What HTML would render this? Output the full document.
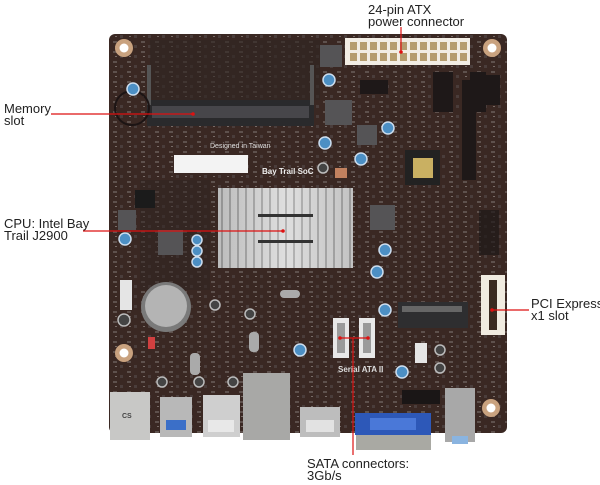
<!DOCTYPE html>
<html><head><meta charset="utf-8"><style>
html,body{margin:0;padding:0;background:#fff;width:600px;height:485px;overflow:hidden}
svg{display:block}
text{font-family:"Liberation Sans",Arial,sans-serif;font-size:13px;fill:#222}
</style></head><body>
<svg width="600" height="485" viewBox="0 0 600 485" xmlns="http://www.w3.org/2000/svg">
<defs>
<pattern id="tex" width="14" height="10" patternUnits="userSpaceOnUse">
<rect width="14" height="10" fill="#3a2823"/>
<rect x="1" y="1" width="4" height="2" fill="#5e514d"/>
<rect x="8" y="5" width="3" height="3" fill="#4a3d3b"/>
<rect x="3" y="6" width="2" height="1" fill="#776b67"/>
</pattern>
<linearGradient id="hs" x1="0" x2="1"><stop offset="0" stop-color="#9a9a9a"/><stop offset=".5" stop-color="#e6e6e6"/><stop offset="1" stop-color="#a8a8a8"/></linearGradient>
<pattern id="fins" width="8" height="10" patternUnits="userSpaceOnUse"><rect width="8" height="10" fill="#d8d8d8"/><rect x="5" width="2" height="10" fill="#8c8c8c"/></pattern>
</defs>
<rect x="109" y="34" width="398" height="399" rx="6" fill="url(#tex)"/>
<rect x="150" y="40" width="170" height="60" fill="#2e2422" opacity=".6"/>
<rect x="140" y="180" width="70" height="110" fill="#2e2422" opacity=".5"/>
<g fill="#c9a27f"><circle cx="124" cy="48" r="9"/><circle cx="492" cy="48" r="9"/><circle cx="124" cy="353" r="9"/><circle cx="491" cy="408" r="9"/></g>
<g fill="#fff"><circle cx="124" cy="48" r="4.5"/><circle cx="492" cy="48" r="4.5"/><circle cx="124" cy="353" r="4.5"/><circle cx="491" cy="408" r="4.5"/></g>
<rect x="345" y="38" width="125" height="27" fill="#f2ede4"/>
<g fill="#b59c6e">
<rect x="350" y="42" width="7" height="8"/><rect x="360" y="42" width="7" height="8"/><rect x="370" y="42" width="7" height="8"/><rect x="380" y="42" width="7" height="8"/><rect x="390" y="42" width="7" height="8"/><rect x="400" y="42" width="7" height="8"/><rect x="410" y="42" width="7" height="8"/><rect x="420" y="42" width="7" height="8"/><rect x="430" y="42" width="7" height="8"/><rect x="440" y="42" width="7" height="8"/><rect x="450" y="42" width="7" height="8"/><rect x="460" y="42" width="7" height="8"/>
<rect x="350" y="53" width="7" height="8"/><rect x="360" y="53" width="7" height="8"/><rect x="370" y="53" width="7" height="8"/><rect x="380" y="53" width="7" height="8"/><rect x="390" y="53" width="7" height="8"/><rect x="400" y="53" width="7" height="8"/><rect x="410" y="53" width="7" height="8"/><rect x="420" y="53" width="7" height="8"/><rect x="430" y="53" width="7" height="8"/><rect x="440" y="53" width="7" height="8"/><rect x="450" y="53" width="7" height="8"/><rect x="460" y="53" width="7" height="8"/>
</g>
<rect x="433" y="72" width="20" height="40" fill="#1e1818"/><rect x="462" y="80" width="14" height="100" fill="#1e1818"/><rect x="485" y="75" width="15" height="30" fill="#1e1818"/><rect x="470" y="72" width="16" height="40" fill="#1e1818"/>
<rect x="360" y="80" width="28" height="14" fill="#1e1818"/>
<rect x="147" y="100" width="167" height="26" fill="#2a2a2c"/>
<rect x="152" y="106" width="157" height="12" fill="#47464a"/>
<rect x="147" y="65" width="4" height="40" fill="#555"/><rect x="310" y="65" width="4" height="40" fill="#555"/>
<circle cx="132" cy="108" r="17" fill="none" stroke="#1c1414" stroke-width="2"/>
<rect x="174" y="155" width="74" height="18" fill="#f3f3f3"/>
<text x="210" y="148" style="font-size:7px;fill:#ddd">Designed in Taiwan</text>
<text x="262" y="174" style="font-size:8px;fill:#eee;font-weight:bold">Bay Trail SoC</text>
<rect x="325" y="100" width="27" height="25" fill="#555456"/><rect x="320" y="45" width="22" height="22" fill="#555456"/><rect x="357" y="125" width="20" height="20" fill="#555456"/>
<rect x="370" y="205" width="25" height="25" fill="#555456"/><rect x="158" y="230" width="25" height="25" fill="#555456"/><rect x="118" y="210" width="18" height="20" fill="#555456"/>
<rect x="405" y="150" width="35" height="35" fill="#222"/><rect x="413" y="158" width="20" height="20" fill="#c9b062"/>
<rect x="135" y="190" width="20" height="18" fill="#1b1b1b"/>
<rect x="335" y="168" width="12" height="10" fill="#c2815f"/>
<rect x="218" y="188" width="135" height="80" fill="url(#fins)"/>
<rect x="218" y="188" width="135" height="80" fill="url(#hs)" opacity=".45"/>
<rect x="258" y="214" width="55" height="3" fill="#333"/><rect x="258" y="240" width="55" height="3" fill="#333"/>
<g fill="#4c8fc4" stroke="#cde" stroke-width="1.5">
<circle cx="133" cy="89" r="6"/><circle cx="329" cy="80" r="6"/><circle cx="388" cy="128" r="6"/><circle cx="325" cy="143" r="6"/><circle cx="361" cy="159" r="6"/>
<circle cx="197" cy="240" r="5"/><circle cx="197" cy="251" r="5"/><circle cx="197" cy="262" r="5"/><circle cx="125" cy="239" r="6"/><circle cx="385" cy="250" r="6"/>
<circle cx="377" cy="272" r="6"/><circle cx="385" cy="310" r="6"/><circle cx="300" cy="350" r="6"/><circle cx="402" cy="372" r="6"/>
</g>
<g fill="#444" stroke="#bbb" stroke-width="1.5"><circle cx="124" cy="320" r="6"/><circle cx="215" cy="305" r="5"/><circle cx="250" cy="314" r="5"/><circle cx="440" cy="350" r="5"/><circle cx="440" cy="368" r="5"/><circle cx="162" cy="382" r="5"/><circle cx="199" cy="382" r="5"/><circle cx="233" cy="382" r="5"/><circle cx="323" cy="168" r="5"/></g>
<circle cx="166" cy="307" r="25" fill="#7a7a7a"/><circle cx="166" cy="306" r="21" fill="#b4b4b4"/>
<rect x="120" y="280" width="12" height="30" fill="#e5e5e5"/>
<rect x="148" y="337" width="7" height="12" fill="#d04040"/>
<rect x="280" y="290" width="20" height="8" rx="4" fill="#aaa"/><rect x="190" y="353" width="10" height="22" rx="4" fill="#aaa"/><rect x="249" y="332" width="10" height="20" rx="4" fill="#aaa"/>
<rect x="398" y="302" width="70" height="26" fill="#2e2e30"/><rect x="402" y="306" width="60" height="6" fill="#666"/>
<rect x="481" y="275" width="24" height="60" fill="#f0ebe0"/><rect x="489" y="280" width="8" height="50" fill="#3a2a20"/>
<rect x="479" y="210" width="20" height="45" fill="#1e1818" opacity=".7"/>
<rect x="333" y="318" width="16" height="40" fill="#e8e8e8"/><rect x="337" y="323" width="8" height="30" fill="#9a9a9a"/>
<rect x="359" y="318" width="16" height="40" fill="#e8e8e8"/><rect x="363" y="323" width="8" height="30" fill="#9a9a9a"/>
<text x="338" y="372" style="font-size:8px;fill:#ddd;font-weight:bold">Serial ATA II</text>
<rect x="415" y="343" width="12" height="20" fill="#e5e5e5"/>
<rect x="402" y="390" width="38" height="14" fill="#1a1616"/>
<rect x="110" y="392" width="40" height="48" fill="#c8c8c6"/>
<text x="122" y="418" style="font-size:7px;fill:#444;font-weight:bold">CS</text>
<rect x="160" y="397" width="32" height="40" fill="#b8b8b8"/><rect x="166" y="420" width="20" height="10" fill="#3b6fc8"/>
<rect x="203" y="395" width="37" height="42" fill="#cfcfcf"/><rect x="208" y="420" width="26" height="12" fill="#e8e8e8"/>
<rect x="243" y="373" width="47" height="67" fill="#a8a8a6"/>
<rect x="300" y="407" width="40" height="30" fill="#bdbdbd"/><rect x="306" y="420" width="28" height="12" fill="#e2e2e2"/>
<rect x="356" y="428" width="75" height="22" fill="#a9a9a3"/>
<rect x="355" y="413" width="76" height="22" fill="#2d58b8"/><rect x="370" y="418" width="46" height="12" fill="#4a78d8"/>
<rect x="445" y="388" width="30" height="54" fill="#a8a8a8"/><rect x="452" y="436" width="16" height="8" fill="#8ab4e0"/>
<g stroke="#d11" stroke-width="1.2" fill="none">
<line x1="401" y1="27" x2="401" y2="52"/>
<line x1="51" y1="114" x2="193" y2="114"/>
<line x1="83" y1="231" x2="283" y2="231"/>
<line x1="492" y1="310" x2="529" y2="310"/>
<line x1="340" y1="338" x2="368" y2="338"/>
<line x1="353" y1="338" x2="353" y2="455"/>
</g>
<g fill="#d11"><circle cx="401" cy="52" r="1.8"/><circle cx="193" cy="114" r="1.8"/><circle cx="283" cy="231" r="1.8"/><circle cx="492" cy="310" r="1.8"/><circle cx="340" cy="338" r="1.8"/><circle cx="368" cy="338" r="1.8"/></g>
<text x="368" y="14">24-pin ATX</text>
<text x="368" y="26">power connector</text>
<text x="4" y="113">Memory</text>
<text x="4" y="125">slot</text>
<text x="4" y="228">CPU: Intel Bay</text>
<text x="4" y="240">Trail J2900</text>
<text x="531" y="308">PCI Express</text>
<text x="531" y="320">x1 slot</text>
<text x="307" y="468">SATA connectors:</text>
<text x="307" y="480">3Gb/s</text>
</svg>
</body></html>
